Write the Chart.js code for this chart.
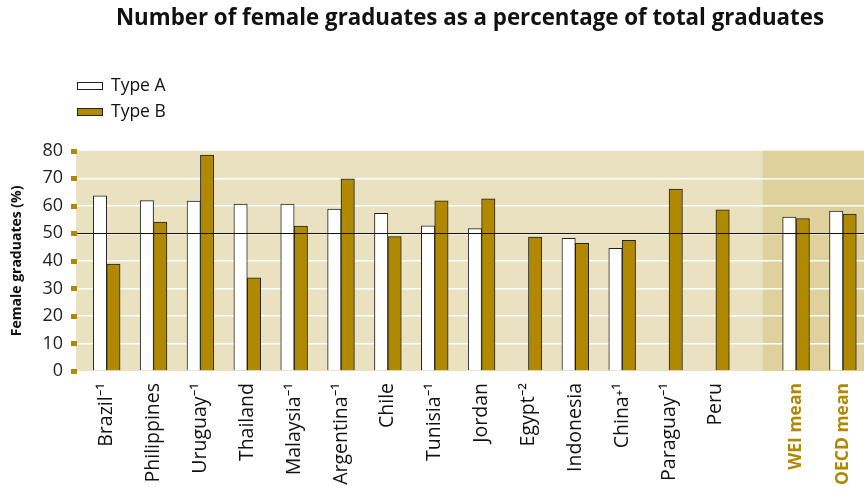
<!DOCTYPE html>
<html>
<head>
<meta charset="utf-8">
<script src="https://cdn.jsdelivr.net/npm/chart.js@4.4.1/dist/chart.umd.min.js"></script>
<style>
  html, body { margin: 0; padding: 0; background: #fff; }
  #wrap { width: 864px; height: 491px; }
</style>
</head>
<body>
<div id="wrap"><canvas id="graficaGraduados"></canvas></div>
<script>
// ===============================
// DATOS
// ===============================
const countries = ["Brazil⁻¹", "Philippines", "Uruguay⁻¹", "Thailand", "Malaysia⁻¹", "Argentina⁻¹", "Chile",
                   "Tunisia⁻¹", "Jordan", "Egypt⁻²", "Indonesia", "China⁺¹", "Paraguay⁻¹", "Peru"];
const countryTypeA = [63.6, 61.9, 61.7, 60.6, 60.6, 58.8, 57.3, 52.7, 51.7, null, 48.2, 44.6, null, null];
const countryTypeB = [38.8, 54.1, 78.4, 33.8, 52.6, 69.8, 48.8, 61.8, 62.5, 48.6, 46.4, 47.5, 66.1, 58.5];
const means = ["WEI mean", "OECD mean"];
const meanTypeA = [55.9, 58.1];
const meanTypeB = [55.4, 57.0];
const yTicks = [0, 10, 20, 30, 40, 50, 60, 70, 80];
const referenceLevel = 50;

// ===============================
// ESTILO
// ===============================
const FONT = "'Open Sans', 'Noto Sans', sans-serif";
const GOLD = "#b08900";
const BEIGE = "#e9e1c0";
const BEIGE_DARK = "#dfd19b";
const GROUP_GAP = 0.71;   // extra space before the means block, in category units

const labels = countries.concat(means);
const xPos = labels.map((_, i) => i < countries.length ? i : i + GROUP_GAP);
const valuesA = countryTypeA.concat(meanTypeA);
const valuesB = countryTypeB.concat(meanTypeB);

// ===============================
// PLUGINS
// ===============================
const fondo = {
    id: "fondo",
    beforeDraw(chart) {
        const { ctx, chartArea: a, scales: { x } } = chart;
        ctx.save();
        ctx.fillStyle = BEIGE;
        ctx.fillRect(a.left, a.top, a.width, a.height);
        const xm = x.getPixelForValue(countries.length);
        ctx.fillStyle = BEIGE_DARK;
        ctx.fillRect(xm, a.top, a.right - xm, a.height);
        ctx.restore();
    }
};

const extras = {
    id: "extras",
    afterDatasetsDraw(chart) {
        const { ctx, chartArea: a, scales: { y } } = chart;
        ctx.save();
        // linea de referencia 50%
        const yr = Math.round(y.getPixelForValue(referenceLevel)) + 0.5;
        ctx.strokeStyle = "#111";
        ctx.lineWidth = 1;
        ctx.beginPath();
        ctx.moveTo(a.left, yr);
        ctx.lineTo(a.right, yr);
        ctx.stroke();
        // marcas doradas del eje y
        ctx.fillStyle = GOLD;
        y.ticks.forEach(t => {
            const py = y.getPixelForValue(t.value);
            ctx.fillRect(a.left - 5, Math.round(py) - 2, 6, 5);
        });
        ctx.restore();
    },
    afterDraw(chart) {
        const { ctx } = chart;
        ctx.save();
        ctx.font = "17.5px " + FONT;
        ctx.textBaseline = "middle";
        chart.data.datasets.forEach((ds, i) => {
            const yy = 86 + i * 26;
            ctx.fillStyle = ds.backgroundColor;
            ctx.fillRect(77, yy - 4, 26, 8);
            ctx.strokeStyle = "#222";
            ctx.lineWidth = 1;
            ctx.strokeRect(77.5, yy - 3.5, 25, 7);
            ctx.fillStyle = "#111";
            ctx.fillText(ds.label, 111, yy);
        });
        ctx.restore();
    }
};

// ===============================
// GRÁFICA
// ===============================
new Chart(document.getElementById("graficaGraduados"), {
    type: "bar",
    data: {
        datasets: [{
            label: "Type A",
            data: valuesA.map((v, i) => ({ x: xPos[i], y: v })),
            backgroundColor: "#ffffff",
            borderColor: "#222",
            borderWidth: 1
        }, {
            label: "Type B",
            data: valuesB.map((v, i) => ({ x: xPos[i], y: v })),
            backgroundColor: GOLD,
            borderColor: "#222",
            borderWidth: 1
        }]
    },
    options: {
        responsive: true,
        maintainAspectRatio: false,
        animation: false,
        barThickness: 13.4,
        layout: { padding: 0 },
        plugins: {
            legend: { display: false },
            tooltip: { enabled: false },
            title: {
                display: true,
                fullSize: false,
                text: "Number of female graduates as a percentage of total graduates",
                color: "#111",
                font: { family: FONT, size: 22.3, weight: "bold" },
                padding: { top: 5, bottom: 119 }
            }
        },
        scales: {
            x: {
                type: "linear",
                offset: false,
                min: -0.655,
                max: 16.16,
                afterBuildTicks: s => { s.ticks = xPos.map(v => ({ value: v })); },
                afterFit: s => { s.height = 120; s.paddingLeft = 0; s.paddingRight = 0; },
                grid: { display: false },
                border: { display: false },
                ticks: {
                    autoSkip: false,
                    minRotation: 90,
                    maxRotation: 90,
                    padding: 4,
                    callback: (v, i) => labels[i],
                    color: c => c.index >= countries.length ? GOLD : "#111",
                    font: c => c.index >= countries.length
                        ? { family: FONT, size: 17.5, weight: "bold" }
                        : { family: FONT, size: 19.5, weight: "normal" }
                }
            },
            y: {
                min: 0,
                max: 80,
                afterBuildTicks: s => { s.ticks = yTicks.map(v => ({ value: v })); },
                afterFit: s => { s.width = 76; },
                grid: {
                    color: c => (c.tick && (c.tick.value === 0 || c.tick.value === 80)) ? "rgba(0,0,0,0)" : "#ffffff",
                    lineWidth: 1.5,
                    drawTicks: false
                },
                border: { display: false },
                ticks: { padding: 13, color: "#222", font: { family: FONT, size: 18 } },
                title: {
                    display: true,
                    text: "Female graduates (%)",
                    color: "#111",
                    font: { family: FONT, size: 14, weight: "bold" },
                    padding: { top: 9, bottom: 0 }
                }
            }
        }
    },
    plugins: [fondo, extras]
});
</script>
</body>
</html>
